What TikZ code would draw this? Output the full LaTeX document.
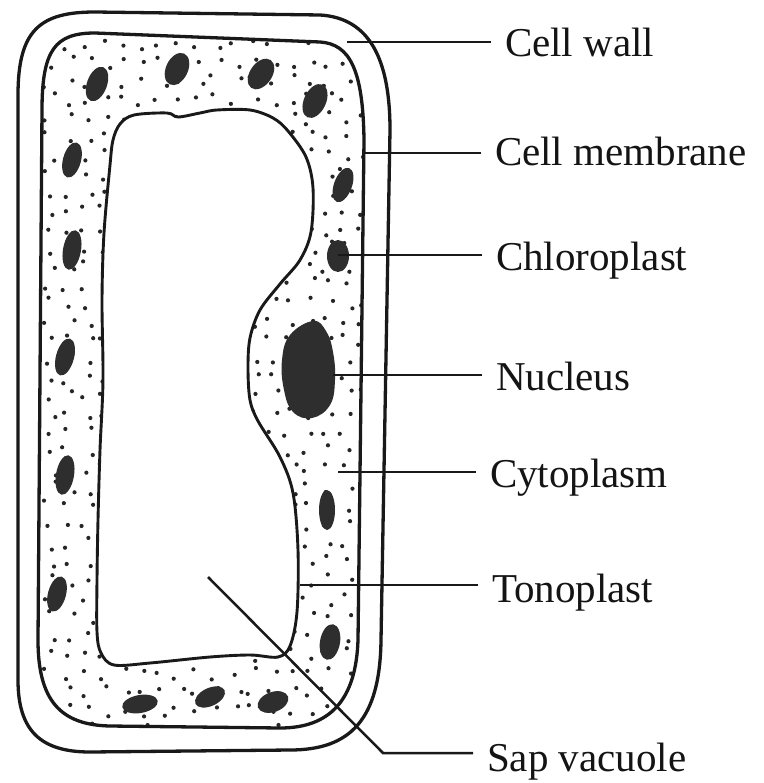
\documentclass[tikz,border=0pt]{standalone}
\usepackage{fontspec}
\setmainfont{Liberation Serif}
\begin{document}
\begin{tikzpicture}[x=1pt,y=-1pt,
  ink/.style={draw=black!90, line width=3.3pt, line join=round},
  vac/.style={draw=black!90, line width=2.9pt, line join=round, fill=white},
  plast/.style={fill=black!82},
  leader/.style={draw=black!90, line width=2.5pt},
  lbl/.style={anchor=base west, inner sep=0pt, outer xsep=14pt, text=black!92,
    font=\fontsize{41}{48}\selectfont}]
\useasboundingbox[fill=white] (0,0) rectangle (763,783);

% granular cytoplasm: scattered dots inside the membrane
\begin{scope}
  \clip (42,110) .. controls (42,50) and (55,33) .. (95,33) -- (320,42)
    .. controls (350,44) and (363,70) .. (364,140) -- (358,640)
    .. controls (356,700) and (330,728) .. (280,728) -- (110,726)
    .. controls (60,725) and (38,700) .. (38,640) -- cycle;
  \pgfmathsetseed{12}
  \foreach \i in {0,...,17} {
    \foreach \j in {0,...,37} {
      \pgfmathsetmacro\dx{rnd*13-6.5}
      \pgfmathsetmacro\dy{rnd*13-6.5}
      \fill[black!85] ({50+\i*18.5+\dx},{44+\j*18.5+\dy}) circle (2.1);
    }
  }
\end{scope}

% cell wall
\path[ink] (18,95) .. controls (18,30) and (40,12) .. (95,12) -- (320,15)
  .. controls (370,18) and (390,60) .. (390,130) -- (381,640)
  .. controls (380,720) and (350,750) .. (290,750) -- (90,752)
  .. controls (40,752) and (18,730) .. (18,680) -- cycle;

% cell membrane
\path[ink] (42,110) .. controls (42,50) and (55,33) .. (95,33) -- (320,42)
  .. controls (350,44) and (363,70) .. (364,140) -- (358,640)
  .. controls (356,700) and (330,728) .. (280,728) -- (110,726)
  .. controls (60,725) and (38,700) .. (38,640) -- cycle;

% sap vacuole bounded by the tonoplast
\path[vac] plot[smooth cycle, tension=0.55] coordinates {
  (120,124) (134,115) (167,113) (178,117) (200,113) (217,110) (250,110)
  (273,118) (288,131) (306,157) (313,188) (311,232) (300,260) (280,284)
  (260,310) (250,338) (248,368) (250,400) (258,421) (280,457) (293,493)
  (298,550) (297,612) (290,646) (278,657) (250,655) (210,657) (150,663)
  (114,665) (101,653) (97,632) (97,580) (98,520) (100,450) (103,380)
  (102,300) (104,233) (110,165) (113,140)};

% chloroplasts
\foreach \cx/\cy/\rx/\ry/\a in {
  97/84/10/18/-20, 177/69/11/17/-25, 261/74/11/17/-35, 315/101/11/18/-25,
  72/160/9/18/-15, 343/185/9/18/-20, 72/250/9/20/-10, 65/357/9/19/-15,
  65/475/9/20/-10, 57/594/9/18/-15, 327/510/8/20/0, 330/642/10/18/-10,
  140/704/18/9/10, 210/697/16/9/25, 273/702/16/10/20} {
  \fill[plast, rotate around={\a:(\cx,\cy)}] (\cx,\cy) ellipse ({\rx} and {\ry});
}
\fill[plast] (338,256) ellipse (11 and 16);
\coordinate (chl) at (338,255);

% nucleus
\fill[plast] plot[smooth cycle, tension=0.7] coordinates {
  (313,321) (326,331) (333,352) (335,380) (330,405) (312,418)
  (293,412) (284,390) (282,360) (290,335)};

% points picked out by the labels
\coordinate (wall) at (347,42);
\coordinate (memb) at (365,153);
\coordinate (nuc) at (333,375);
\coordinate (cyto) at (338,472);
\coordinate (tono) at (300,585);
\coordinate (sap) at (208,577);
\coordinate (sapbend) at (383,753);

% labels
\node[lbl] (lwall) at (491,57) {Cell wall};
\node[lbl] (lmemb) at (481,166) {Cell membrane};
\node[lbl] (lchl)  at (482,270) {Chloroplast};
\node[lbl] (lnuc)  at (482,390) {Nucleus};
\node[lbl] (lcyto) at (476,487) {Cytoplasm};
\node[lbl] (ltono) at (478,602) {Tonoplast};
\node[lbl] (lsap)  at (473,771) {Sap vacuole};

% leader lines
\draw[leader] (wall) -- (wall -| lwall.west);
\draw[leader] (memb) -- (memb -| lmemb.west);
\draw[leader] (chl) -- (chl -| lchl.west);
\draw[leader] (nuc) -- (nuc -| lnuc.west);
\draw[leader] (cyto) -- (cyto -| lcyto.west);
\draw[leader] (tono) -- (tono -| ltono.west);
\draw[leader] (sap) -- (sapbend) -- (sapbend -| lsap.west);
\end{tikzpicture}
\end{document}
